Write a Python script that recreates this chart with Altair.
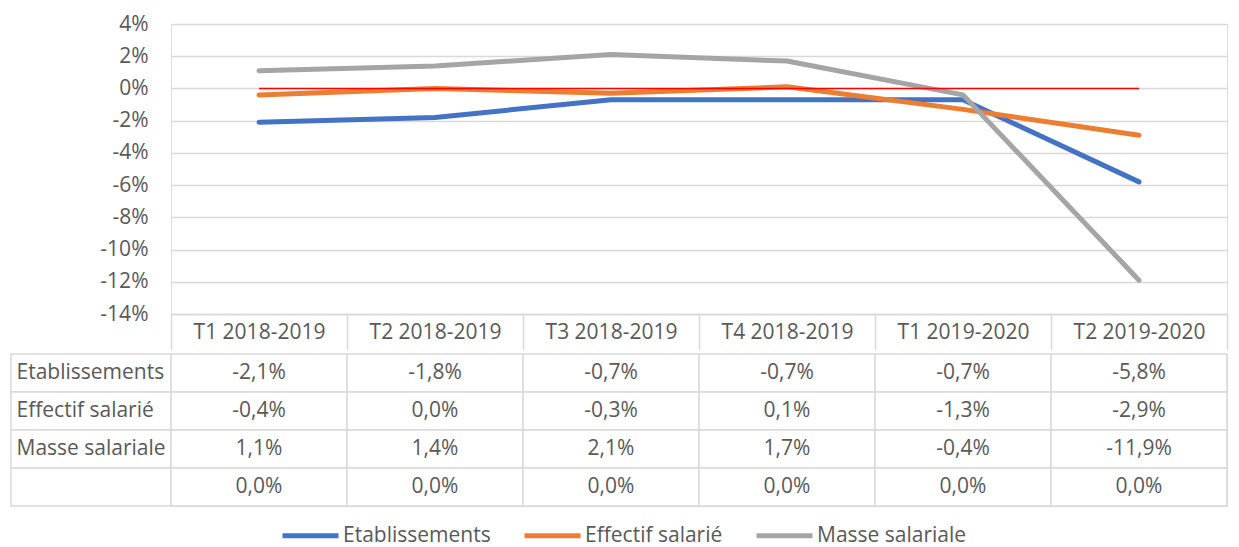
import altair as alt
import pandas as pd

categories = ["T1 2018-2019", "T2 2018-2019", "T3 2018-2019", "T4 2018-2019",
              "T1 2019-2020", "T2 2019-2020"]
series_names = ["Etablissements", "Effectif salarié", "Masse salariale"]
etablissements = [-2.1, -1.8, -0.7, -0.7, -0.7, -5.8]
effectif = [-0.4, 0.0, -0.3, 0.1, -1.3, -2.9]
masse = [1.1, 1.4, 2.1, 1.7, -0.4, -11.9]
zero_series = [0.0, 0.0, 0.0, 0.0, 0.0, 0.0]
y_ticks = [4, 2, 0, -2, -4, -6, -8, -10, -12, -14]
colors = ["#4472C4", "#ED7D31", "#A5A5A5"]
zero_color = "#FF0000"
text_color = "#595959"
grid_color = "#D9D9D9"
FONT = "Open Sans"
FS = 21

rows = []
for name, vals in zip(series_names, [etablissements, effectif, masse]):
    for i, v in enumerate(vals):
        rows.append({"serie": name, "cat": i, "v": v})
lines_df = pd.DataFrame(rows)
zero_df = pd.DataFrame({"cat": list(range(len(categories))), "v": zero_series})

table_rows = []
row_keys = series_names + ["zero"]
for key, vals in zip(row_keys, [etablissements, effectif, masse, zero_series]):
    for i, v in enumerate(vals):
        table_rows.append({"row": key, "cat": i, "v": v})
table_df = pd.DataFrame(table_rows)
rowlab_df = pd.DataFrame({"row": row_keys})

W = 1056
x_scale = alt.Scale(type="band", domain=list(range(len(categories))), paddingInner=0, paddingOuter=0)
y_scale = alt.Scale(domain=[-14, 4], nice=False)
cat_label_expr = "[" + ",".join("'%s'" % c for c in categories) + "][datum.value]"

x_axis = alt.Axis(
    labelExpr=cat_label_expr, labelAngle=0, labelFont=FONT, labelFontSize=FS,
    labelColor=text_color, labelBaseline="middle", labelPadding=-18,
    tickBand="extent", tickSize=36, tickColor=grid_color, tickWidth=1.5,
    domainColor=grid_color, domainWidth=1.5, grid=False,
)
y_axis = alt.Axis(
    values=y_ticks, labelExpr="datum.value + '%'", labelFont=FONT, labelFontSize=FS,
    labelColor=text_color, labelPadding=23, ticks=False, domain=False,
    gridColor=grid_color, gridWidth=1.5, labelOverlap=False, labelBound=False,
)

lines = alt.Chart(lines_df).mark_line(strokeWidth=5, strokeCap="round", strokeJoin="round").encode(
    x=alt.X("cat:O", scale=x_scale, bandPosition=0.5, title=None, axis=x_axis),
    y=alt.Y("v:Q", scale=y_scale, title=None, axis=y_axis),
    color=alt.Color(
        "serie:N", scale=alt.Scale(domain=series_names, range=colors), sort=series_names,
        legend=alt.Legend(
            title=None, orient="none", legendX=109, legendY=481, direction="horizontal",
            symbolType="stroke", symbolSize=3136, symbolStrokeWidth=5,
            labelFont=FONT, labelFontSize=FS, labelColor=text_color,
            labelOffset=2, columnPadding=23,
        ),
    ),
)
zero_line = alt.Chart(zero_df).mark_line(strokeWidth=1.5, color=zero_color).encode(
    x=alt.X("cat:O", scale=x_scale, bandPosition=0.5, title=None, axis=x_axis),
    y=alt.Y("v:Q", scale=y_scale, title=None, axis=y_axis),
)
top = alt.layer(lines, zero_line).properties(width=W, height=290)

fmt = "(datum.v < 0 ? '-' : '') + replace(format(abs(datum.v), '.1f'), '.', ',') + '%'"
y_tab = alt.Y(
    "row:N", scale=alt.Scale(domain=row_keys, paddingInner=0, paddingOuter=0), sort=row_keys, title=None,
    axis=alt.Axis(
        labelExpr="datum.value == 'zero' ? '' : datum.value", labelAlign="left", labelPadding=155,
        labelFont=FONT, labelFontSize=FS, labelColor=text_color, ticks=False, domain=False, labelLimit=300,
    ),
)
x_tab = alt.X("cat:O", scale=x_scale, axis=None)
cells = alt.Chart(table_df).mark_rect(fill="white", stroke=grid_color, strokeWidth=1.5).encode(x=x_tab, y=y_tab)
texts = alt.Chart(table_df).mark_text(font=FONT, fontSize=FS, color=text_color).transform_calculate(
    txt=fmt
).encode(
    x=alt.X("cat:O", scale=x_scale, axis=None, bandPosition=0.5),
    y=alt.Y("row:N", sort=row_keys, bandPosition=0.5),
    text="txt:N",
)
label_cells = alt.Chart(rowlab_df).mark_rect(fill="white", stroke=grid_color, strokeWidth=1.5).encode(
    x=alt.value(-160), x2=alt.value(0), y=alt.Y("row:N", sort=row_keys)
)
table = alt.layer(label_cells, cells, texts).properties(width=W, height=152)

chart = alt.vconcat(top, table, spacing=0).properties(
    padding={"left": 1, "top": 4, "right": 0, "bottom": 4}
).configure_view(stroke="transparent", strokeWidth=0).configure(font=FONT)

chart.save("out.html", embed_options={"renderer": "svg", "actions": False})
